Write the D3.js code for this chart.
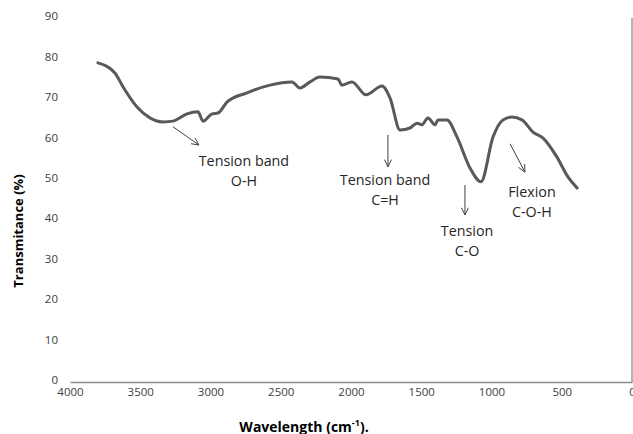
<!DOCTYPE html>
<html>
<head>
<meta charset="utf-8">
<script src="https://cdn.jsdelivr.net/npm/d3@7"></script>
<style>
html,body{margin:0;padding:0;background:#fff;}
svg{display:block;font-family:"Open Sans",sans-serif;}
</style>
</head>
<body>
<svg id="chart" width="633" height="434"></svg>
<script>
// Data
const wavenumber = [3801,3680,3623,3523,3431,3338,3267,3167,3089,3053,2989,2947,2883,2740,2577,2420,2363,2292,2221,2093,2064,1993,1893,1779,1722,1651,1580,1530,1495,1452,1402,1381,1317,1246,1153,1075,989,918,854,783,705,633,534,456,391];
const transmittance = [78.9,76.4,73.0,68.0,65.3,64.3,64.5,66.3,66.8,64.5,66.3,66.5,69.2,71.5,73.4,74.2,72.7,74.2,75.4,74.9,73.4,74.2,71.0,73.2,70.2,62.3,62.8,64.0,63.6,65.3,63.6,64.8,64.8,60.6,52.9,49.5,60.6,64.8,65.5,64.8,61.8,60.3,55.6,50.7,48.0];
const xTicks = [4000,3500,3000,2500,2000,1500,1000,500,0];
const yTicks = [0,10,20,30,40,50,60,70,80,90];
const annotationLines = [["Tension band","O-H"],["Tension band","C=H"],["Tension","C-O"],["Flexion","C-O-H"]];
const annotationAnchor = [[2762,53.4],[1758,48.7],[1174,36.1],[712,45.7]]; // text position (wavenumber, %)
const arrowFrom = [[3267,63.1],[1737,61.1],[1189,48.7],[868,58.9]];
const arrowTo = [[3082,58.6],[1737,53.2],[1189,41.3],[762,51.9]];

const svg = d3.select("#chart");
const x = d3.scaleLinear().domain([4000,0]).range([70,632]);
const y = d3.scaleLinear().domain([0,90]).range([382,18]);

// bottom axis
const xAxis = svg.append("g").attr("transform",`translate(0,${y(0)})`)
  .call(d3.axisBottom(x).tickValues(xTicks).tickSize(0).tickPadding(6).tickFormat(d3.format("d")));
xAxis.select(".domain").attr("stroke","#8c8c8c").attr("stroke-width",1.3);
xAxis.selectAll("text").attr("font-size",11.5).attr("fill","#404040").attr("font-family","Open Sans");

// right border line
svg.append("line").attr("x1",x(0)).attr("x2",x(0)).attr("y1",y(90)).attr("y2",y(0))
  .attr("stroke","#8c8c8c").attr("stroke-width",1.3);

// left axis labels (no line)
const yAxis = svg.append("g").attr("transform",`translate(58,-2)`)
  .call(d3.axisLeft(y).tickValues(yTicks).tickSize(0).tickPadding(0));
yAxis.select(".domain").remove();
yAxis.selectAll("text").attr("font-size",11.5).attr("fill","#404040").attr("font-family","Open Sans");

// line
const pts = wavenumber.map((w,i)=>[w,transmittance[i]]);
svg.append("path").datum(pts)
  .attr("fill","none").attr("stroke","#595959").attr("stroke-width",3).attr("stroke-linejoin","round").attr("stroke-linecap","round")
  .attr("d", d3.line().x(d=>x(d[0])).y(d=>y(d[1])).curve(d3.curveMonotoneX));

// arrows
arrowFrom.forEach((f,i)=>{
  const t = arrowTo[i];
  const x1=x(f[0]),y1=y(f[1]),x2=x(t[0]),y2=y(t[1]);
  svg.append("line").attr("x1",x1).attr("y1",y1).attr("x2",x2).attr("y2",y2).attr("stroke","#404040").attr("stroke-width",1);
  const ang = Math.atan2(y2-y1,x2-x1), L=8, a=0.45;
  [ang+Math.PI-a, ang+Math.PI+a].forEach(b=>{
    svg.append("line").attr("x1",x2).attr("y1",y2).attr("x2",x2+L*Math.cos(b)).attr("y2",y2+L*Math.sin(b))
      .attr("stroke","#404040").attr("stroke-width",1);
  });
});

// annotation text
annotationLines.forEach((lines,i)=>{
  const [w,v] = annotationAnchor[i];
  const t = svg.append("text").attr("x",x(w)).attr("y",y(v)).attr("text-anchor","middle")
    .attr("font-size",14.3).attr("fill","#262626");
  lines.forEach((s,j)=>t.append("tspan").attr("x",x(w)).attr("dy", j===0?0:20).text(s));
});

// axis titles
svg.append("text").attr("transform",`translate(23,231) rotate(-90)`).attr("text-anchor","middle")
  .attr("font-size",13).attr("font-weight","bold").attr("fill","#000").text("Transmitance (%)");
const xt = svg.append("text").attr("x",304).attr("y",432).attr("text-anchor","middle")
  .attr("font-size",14).attr("font-weight","bold").attr("fill","#000");
xt.append("tspan").text("Wavelength (cm");
xt.append("tspan").attr("font-size",9).attr("dy",-6).text("-1");
xt.append("tspan").attr("dy",6).text(").");
</script>
</body>
</html>
